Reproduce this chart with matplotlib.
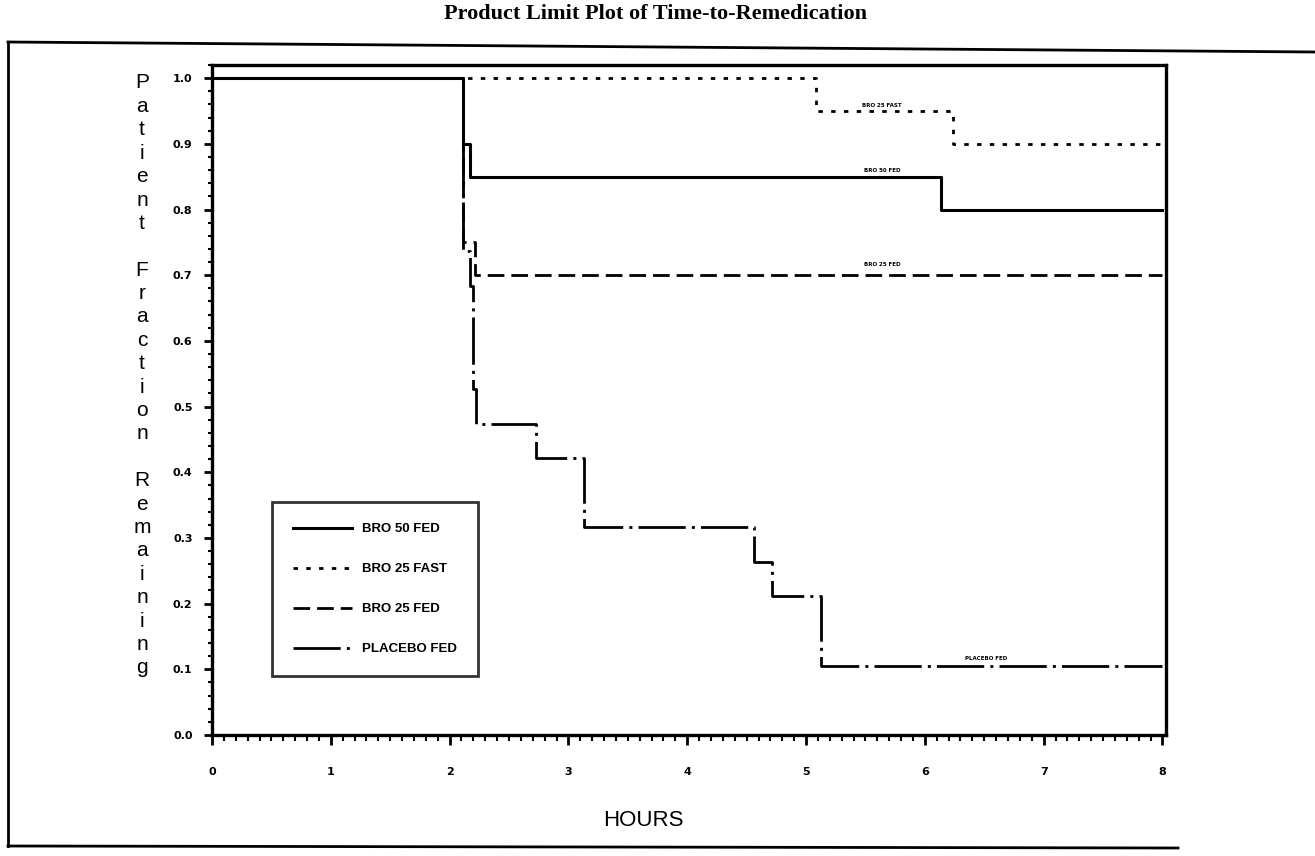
import matplotlib.pyplot as plt
from matplotlib.lines import Line2D
from matplotlib.ticker import MultipleLocator

# Kaplan-Meier style step data (hours, fraction remaining)
bro50_fed_t = [0, 2.11, 2.17, 6.14, 8.0]
bro50_fed_s = [1.0, 0.90, 0.85, 0.80, 0.80]

bro25_fast_t = [0, 5.08, 6.24, 8.0]
bro25_fast_s = [1.0, 0.95, 0.90, 0.90]

bro25_fed_t = [0, 2.11, 2.21, 8.0]
bro25_fed_s = [1.0, 0.75, 0.70, 0.70]

placebo_t = [0, 2.11, 2.17, 2.20, 2.22, 2.73, 3.13, 4.56, 4.71, 5.13, 8.0]
placebo_s = [1.0, 0.737, 0.684, 0.526, 0.474, 0.421, 0.316, 0.263, 0.211, 0.105, 0.105]

W, H = 1315, 856
fig = plt.figure(figsize=(W / 100, H / 100), dpi=100)

# axes frame in pixels: left 212, right 1166, top 65, bottom 735
ax = fig.add_axes([212 / W, (H - 735) / H, (1166 - 212) / W, (735 - 65) / H])

ax.step(placebo_t, placebo_s, where="post", color="black", lw=2,
        ls=(0, (17, 2.2, 1.1, 2.2)), label="PLACEBO FED", zorder=2)
ax.step(bro25_fed_t, bro25_fed_s, where="post", color="black", lw=2,
        ls=(0, (6, 2.5)), label="BRO 25 FED", zorder=3)
ax.step(bro25_fast_t, bro25_fast_s, where="post", color="black", lw=2,
        ls=(0, (1.6, 3)), label="BRO 25 FAST", zorder=4)
ax.step(bro50_fed_t, bro50_fed_s, where="post", color="black", lw=2.2,
        ls="-", label="BRO 50 FED", zorder=5)

ax.set_xlim(0, 8.03)
ax.set_ylim(0, 1.02)

# tiny curve labels as in the SAS output
small = dict(fontsize=4, fontweight="bold", ha="center", va="bottom")
ax.text(5.64, 0.955, "BRO 25 FAST", **small)
ax.text(5.64, 0.855, "BRO 50 FED", **small)
ax.text(5.64, 0.712, "BRO 25 FED", **small)
ax.text(6.52, 0.112, "PLACEBO FED", **small)

for s in ax.spines.values():
    s.set_linewidth(2.4)

ax.xaxis.set_major_locator(MultipleLocator(1))
ax.xaxis.set_minor_locator(MultipleLocator(0.1))
ax.yaxis.set_major_locator(MultipleLocator(0.1))
ax.yaxis.set_minor_locator(MultipleLocator(0.02))
ax.xaxis.set_major_formatter(plt.FuncFormatter(lambda v, p: "%d" % v))
ax.yaxis.set_major_formatter(plt.FuncFormatter(lambda v, p: "%.1f" % v))
ax.tick_params(axis="x", which="major", direction="out", length=7, width=2,
               pad=16, labelsize=8)
ax.tick_params(axis="x", which="minor", direction="out", length=4, width=1.5)
ax.tick_params(axis="y", which="major", direction="out", length=6, width=2,
               pad=8, labelsize=8)
ax.tick_params(axis="y", which="minor", direction="out", length=3, width=1.5)
for lab in ax.get_xticklabels() + ax.get_yticklabels():
    lab.set_fontweight("bold")

handles, labels = ax.get_legend_handles_labels()
order = [3, 2, 1, 0]
leg = ax.legend([handles[i] for i in order], [labels[i] for i in order],
                loc="upper left", bbox_to_anchor=(272 / W, 1 - 502 / H),
                bbox_transform=fig.transFigure, frameon=True, fancybox=False,
                edgecolor="black", handlelength=4.5, handletextpad=0.7,
                labelspacing=2.1, borderpad=1.6, borderaxespad=0,
                prop={"family": "Liberation Sans", "weight": "bold", "size": 9.5})
leg.get_frame().set_linewidth(2)

fig.text(655 / W, 1 - 14 / H, "Product Limit Plot of Time-to-Remedication",
         ha="center", va="center", fontsize=16, fontweight="bold",
         family="Liberation Serif")
fig.text(643 / W, 1 - 820 / H, "HOURS", ha="center", va="center",
         fontsize=16, family="Liberation Sans")

ylab = "Patient Fraction Remaining"
y0 = 83
for ch in ylab:
    if ch != " ":
        fig.text(142 / W, 1 - y0 / H, ch, ha="center", va="center",
                 fontsize=15, family="Liberation Sans")
    y0 += 23.4

# outer border of the page
fig.add_artist(Line2D([8 / W, 1], [1 - 42 / H, 1 - 52 / H], color="black", lw=2))
fig.add_artist(Line2D([8 / W, 8 / W], [1 - 42 / H, 1 - 846 / H], color="black", lw=2))
fig.add_artist(Line2D([8 / W, 1178 / W], [1 - 846 / H, 1 - 848 / H], color="black", lw=2))

fig.savefig("out.png", dpi=100)
